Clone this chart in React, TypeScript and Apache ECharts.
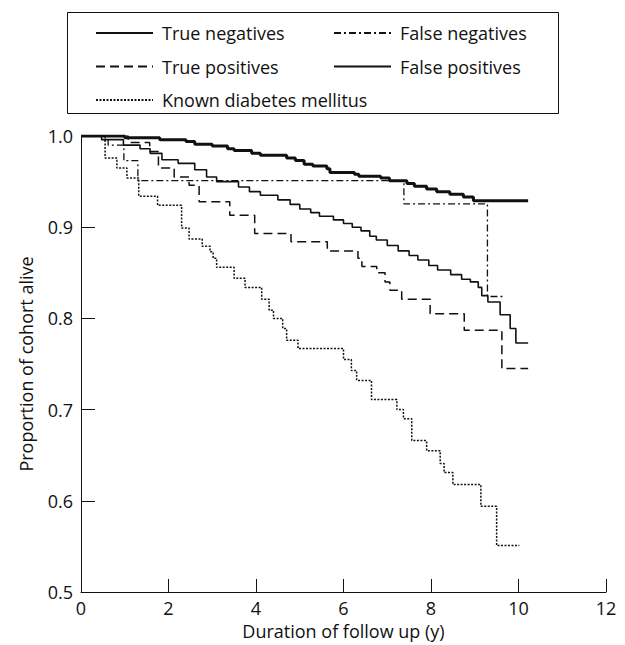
import React, { useEffect, useRef } from "react";
import * as echarts from "echarts";

const xTicks = [0, 2, 4, 6, 8, 10, 12];
const yTicks = [0.5, 0.6, 0.7, 0.8, 0.9, 1.0];

const seriesNames = [
  "True negatives",
  "True positives",
  "Known diabetes mellitus",
  "False negatives",
  "False positives",
];

// [time (y), proportion alive after that time]
const trueNegatives: [number, number][] = [
  [0, 1], [1.0, 0.998], [1.8, 0.996], [2.4, 0.994], [2.6, 0.991], [3.0, 0.989],
  [3.35, 0.986], [3.5, 0.984], [3.9, 0.981], [4.1, 0.979], [4.7, 0.976],
  [4.9, 0.973], [5.1, 0.969], [5.3, 0.967], [5.62, 0.964], [5.69, 0.96],
  [6.25, 0.958], [6.35, 0.956], [6.85, 0.954], [7.05, 0.951], [7.45, 0.948],
  [7.62, 0.945], [7.9, 0.942], [8.13, 0.939], [8.43, 0.936], [8.74, 0.933],
  [8.97, 0.929], [10.22, 0.929],
];

const truePositives: [number, number][] = [
  [0, 1], [1.08, 0.993], [1.57, 0.983], [1.77, 0.965], [2.13, 0.955],
  [2.47, 0.946], [2.7, 0.928], [3.4, 0.913], [3.97, 0.893], [4.8, 0.884],
  [5.63, 0.874], [6.33, 0.866], [6.42, 0.857], [6.76, 0.85], [6.95, 0.84],
  [7.06, 0.831], [7.33, 0.821], [7.98, 0.805], [8.76, 0.787], [9.62, 0.745],
  [10.22, 0.745],
];

const knownDiabetes: [number, number][] = [
  [0, 1], [0.55, 0.976], [0.82, 0.965], [1.05, 0.954], [1.32, 0.934],
  [1.75, 0.924], [2.3, 0.899], [2.47, 0.887], [2.77, 0.879], [2.95, 0.873],
  [3.02, 0.866], [3.1, 0.856], [3.5, 0.844], [3.75, 0.834], [4.13, 0.821],
  [4.3, 0.809], [4.4, 0.8], [4.61, 0.789], [4.7, 0.776], [4.96, 0.767],
  [6.0, 0.755], [6.18, 0.743], [6.3, 0.732], [6.64, 0.711], [7.22, 0.7],
  [7.37, 0.69], [7.56, 0.666], [7.9, 0.655], [8.21, 0.641], [8.3, 0.631],
  [8.5, 0.618], [9.14, 0.594], [9.5, 0.551], [10.02, 0.551],
];

const falseNegatives: [number, number][] = [
  [0, 1], [0.62, 0.99], [0.98, 0.973], [1.3, 0.951], [7.38, 0.9255],
  [9.29, 0.824], [9.69, 0.824],
];

const falsePositives: [number, number][] = [
  [0, 1], [0.47, 0.996], [0.97, 0.99], [1.35, 0.986], [1.58, 0.981],
  [1.85, 0.974], [2.22, 0.97], [2.6, 0.963], [2.87, 0.955], [3.1, 0.95],
  [3.6, 0.944], [3.85, 0.939], [4.1, 0.935], [4.5, 0.93], [4.78, 0.925],
  [5.0, 0.92], [5.25, 0.916], [5.45, 0.912], [5.77, 0.908], [6.0, 0.904],
  [6.2, 0.9], [6.4, 0.896], [6.6, 0.89], [6.75, 0.886], [7.0, 0.88],
  [7.25, 0.874], [7.5, 0.869], [7.7, 0.864], [7.95, 0.858], [8.15, 0.853],
  [8.45, 0.848], [8.7, 0.843], [8.9, 0.84], [9.08, 0.834], [9.16, 0.825],
  [9.3, 0.818], [9.58, 0.804], [9.81, 0.789], [9.94, 0.773], [10.22, 0.773],
];

const FONT = "'Open Sans', 'DejaVu Sans', sans-serif";
const INK = "#111";

export default function App() {
  const ref = useRef<HTMLDivElement>(null);

  useEffect(() => {
    if (!ref.current) return;
    const chart = echarts.init(ref.current, undefined, { renderer: "svg" });

    const mk = (name: string, data: [number, number][], lineStyle: any) => ({
      name,
      type: "line",
      step: "end",
      data,
      showSymbol: false,
      symbol: "none",
      lineStyle: { color: INK, ...lineStyle },
      itemStyle: { color: INK },
    });

    const legendCommon = {
      orient: "vertical",
      top: 21,
      padding: 0,
      itemWidth: 57,
      itemHeight: 14,
      itemGap: 9.5,
      selectedMode: false,
      itemStyle: { opacity: 0, borderWidth: 0 },
      textStyle: {
        fontFamily: FONT,
        fontSize: 18,
        color: INK,
        padding: [0, 0, 0, 4],
        lineHeight: 24,
      },
    };

    chart.setOption({
      animation: false,
      grid: { left: 81, right: 19, top: 136, bottom: 53 },
      legend: [
        { ...legendCommon, left: 95, data: [seriesNames[0], seriesNames[1], seriesNames[2]] },
        { ...legendCommon, left: 333, data: [seriesNames[3], seriesNames[4]] },
      ],
      graphic: [
        {
          type: "rect",
          shape: { x: 67.5, y: 12.5, width: 491, height: 101 },
          style: { fill: "none", stroke: INK, lineWidth: 1 },
          silent: true,
        },
      ],
      xAxis: {
        type: "value",
        min: xTicks[0],
        max: xTicks[xTicks.length - 1],
        interval: 2,
        name: "Duration of follow up (y)",
        nameLocation: "middle",
        nameGap: 30,
        nameTextStyle: { fontFamily: FONT, fontSize: 18, color: INK },
        axisLine: { lineStyle: { color: INK, width: 1 } },
        axisTick: { inside: true, length: 13, lineStyle: { color: INK } },
        axisLabel: { fontFamily: FONT, fontSize: 18, color: INK, margin: 7 },
        splitLine: { show: false },
      },
      yAxis: {
        type: "value",
        min: yTicks[0],
        max: yTicks[yTicks.length - 1],
        interval: 0.1,
        name: "Proportion of cohort alive",
        nameLocation: "middle",
        nameGap: 46,
        nameTextStyle: { fontFamily: FONT, fontSize: 18, color: INK },
        axisLine: { show: true, lineStyle: { color: INK, width: 1 } },
        axisTick: { show: true, inside: true, length: 14, lineStyle: { color: INK } },
        axisLabel: {
          fontFamily: FONT,
          fontSize: 18,
          color: INK,
          margin: 8,
          formatter: (v: number) => v.toFixed(1),
        },
        splitLine: { show: false },
      },
      series: [
        mk(seriesNames[0], trueNegatives, { width: 3 }),
        mk(seriesNames[1], truePositives, { width: 1.5, type: [9, 5] }),
        mk(seriesNames[2], knownDiabetes, { width: 1.5, type: [2, 1.5] }),
        mk(seriesNames[3], falseNegatives, { width: 1.3, type: [7, 3, 2, 3] }),
        mk(seriesNames[4], falsePositives, { width: 1.6 }),
      ],
    });

    return () => chart.dispose();
  }, []);

  return (
    <div
      ref={ref}
      style={{ position: "absolute", left: 0, top: 0, width: 625, height: 645 }}
    />
  );
}
